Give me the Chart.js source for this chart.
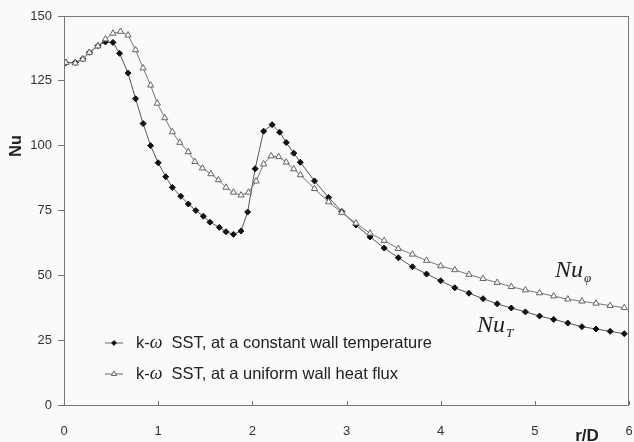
<!DOCTYPE html>
<html>
<head>
<meta charset="utf-8">
<script src="https://cdn.jsdelivr.net/npm/chart.js@4"></script>
<style>
  html, body { margin: 0; padding: 0; background: #fafafa; }
  #wrap { width: 634px; height: 442px; }
</style>
</head>
<body>
<div id="wrap"><canvas id="nuChart" width="634" height="442"></canvas></div>
<script>
// r/D positions and Nusselt numbers, constant wall temperature
const rT = [0.02, 0.12, 0.2, 0.27, 0.36, 0.44, 0.52, 0.59, 0.68, 0.76, 0.84, 0.92, 1.0, 1.08, 1.15, 1.24,
  1.32, 1.4, 1.48, 1.55, 1.65, 1.72, 1.8, 1.88, 1.95, 2.03, 2.12, 2.21, 2.29, 2.36, 2.44, 2.51, 2.66,
  2.81, 2.95, 3.1, 3.25, 3.4, 3.55, 3.7, 3.85, 4.0, 4.15, 4.3, 4.45, 4.6, 4.75, 4.9, 5.05, 5.2, 5.35,
  5.5, 5.65, 5.8, 5.95];
const nuT = [132.0, 132.1, 133.5, 136.0, 138.5, 140.0, 139.8, 135.6, 128.0, 118.1, 108.5, 100.0, 93.4,
  88.0, 83.9, 80.5, 77.5, 75.0, 72.8, 70.5, 68.5, 66.8, 65.8, 67.1, 74.4, 91.1, 105.6, 108.1, 105.2,
  101.2, 97.1, 93.6, 86.4, 80.0, 74.6, 69.4, 64.8, 60.5, 56.8, 53.3, 50.5, 47.9, 45.2, 43.1, 41.0, 39.0,
  37.4, 35.9, 34.3, 33.0, 31.6, 30.2, 29.3, 28.4, 27.5];

// r/D positions and Nusselt numbers, uniform wall heat flux
const rPhi = [0.02, 0.12, 0.2, 0.27, 0.36, 0.44, 0.52, 0.6, 0.68, 0.76, 0.84, 0.92, 0.99, 1.07, 1.15,
  1.23, 1.32, 1.39, 1.47, 1.56, 1.64, 1.72, 1.8, 1.88, 1.96, 2.04, 2.12, 2.2, 2.28, 2.36, 2.44, 2.51,
  2.66, 2.81, 2.95, 3.1, 3.25, 3.4, 3.55, 3.7, 3.85, 4.0, 4.15, 4.3, 4.45, 4.6, 4.75, 4.9, 5.05, 5.2,
  5.35, 5.5, 5.65, 5.8, 5.95];
const nuPhi = [132.0, 131.8, 133.3, 135.9, 138.4, 141.1, 143.3, 144.0, 142.6, 136.9, 129.9, 123.3,
  116.3, 110.7, 105.3, 101.2, 97.6, 93.8, 91.3, 89.1, 86.8, 83.9, 82.0, 80.9, 82.0, 86.3, 92.9, 96.0,
  95.7, 93.6, 91.0, 88.7, 83.4, 78.3, 74.2, 70.1, 66.2, 63.4, 60.3, 58.1, 55.7, 53.6, 52.1, 50.3, 48.7,
  47.2, 45.6, 44.3, 43.2, 42.0, 40.8, 40.0, 39.2, 38.3, 37.5];

const xTicks = [0, 1, 2, 3, 4, 5, 6];
const yTicks = [0, 25, 50, 75, 100, 125, 150];
const seriesNames = ['SST, at a constant wall temperature', 'SST, at a uniform wall heat flux'];

const SANS = '"Liberation Sans", Arial, sans-serif';
const SERIF = '"Liberation Serif", "Times New Roman", serif';

function toPoints(xs, ys) {
  return xs.map((x, i) => ({ x: x, y: ys[i] }));
}

const markerT = { pointStyle: 'rectRot', pointRadius: 3, pointBackgroundColor: '#111', pointBorderColor: '#111', pointBorderWidth: 1 };
const markerPhi = { pointStyle: 'triangle', pointRadius: 3.6, pointBackgroundColor: '#fafafa', pointBorderColor: '#666', pointBorderWidth: 1 };

// background, frame, inward x ticks, legend and curve labels
const decorations = {
  id: 'decorations',
  beforeDraw(chart) {
    const ctx = chart.ctx;
    ctx.save();
    ctx.fillStyle = '#fafafa';
    ctx.fillRect(0, 0, chart.width, chart.height);
    ctx.restore();
  },
  afterDraw(chart) {
    const ctx = chart.ctx;
    const a = chart.chartArea;
    const xs = chart.scales.x;
    ctx.save();
    ctx.strokeStyle = '#777';
    ctx.lineWidth = 1;
    ctx.strokeRect(a.left + 0.5, a.top + 0.5, a.right - a.left - 1, a.bottom - a.top);
    xTicks.forEach(v => {
      const px = Math.round(xs.getPixelForValue(v)) + 0.5;
      ctx.beginPath();
      ctx.moveTo(px, a.bottom);
      ctx.lineTo(px, a.bottom - 4);
      ctx.stroke();
    });

    // axis titles
    ctx.fillStyle = '#222';
    ctx.font = 'bold 16px ' + SANS;
    ctx.textAlign = 'center';
    ctx.textBaseline = 'middle';
    ctx.save();
    ctx.translate(17, 146);
    ctx.rotate(-Math.PI / 2);
    ctx.fillText('Nu', 0, 0);
    ctx.restore();
    ctx.font = 'bold 17px ' + SANS;
    ctx.fillText('r/D', 587, 436);

    // legend
    const rows = [
      { y: a.top + 327, marker: markerT },
      { y: a.top + 358, marker: markerPhi }
    ];
    rows.forEach((row, i) => {
      ctx.strokeStyle = '#666';
      ctx.beginPath();
      ctx.moveTo(a.left + 41, row.y);
      ctx.lineTo(a.left + 59, row.y);
      ctx.stroke();
      ctx.fillStyle = row.marker.pointBackgroundColor;
      ctx.strokeStyle = row.marker.pointBorderColor;
      Chart.helpers.drawPoint(ctx, {
        pointStyle: row.marker.pointStyle,
        radius: row.marker.pointRadius - 0.6,
        borderWidth: 1,
        rotation: 0
      }, a.left + 50, row.y);
      let tx = a.left + 72;
      ctx.textAlign = 'left';
      ctx.textBaseline = 'middle';
      ctx.fillStyle = '#222';
      ctx.font = '16.5px ' + SANS;
      ctx.fillText('k-', tx, row.y);
      tx += ctx.measureText('k-').width;
      ctx.font = 'italic 18px ' + SERIF;
      ctx.fillText('\u03c9', tx, row.y);
      tx += ctx.measureText('\u03c9').width + 9;
      ctx.font = '16.5px ' + SANS;
      ctx.fillText(seriesNames[i], tx, row.y);
    });

    // curve labels
    const label = (x, y, sub) => {
      ctx.textAlign = 'left';
      ctx.textBaseline = 'alphabetic';
      ctx.fillStyle = '#222';
      ctx.font = 'italic 24px ' + SERIF;
      ctx.fillText('Nu', x, y);
      const w = ctx.measureText('Nu').width;
      ctx.font = 'italic 13px ' + SERIF;
      ctx.fillText(sub, x + w + 1, y + 5);
    };
    label(555, 277, '\u03c6');
    label(477, 332, 'T');
    ctx.restore();
  }
};

const ctx = document.getElementById('nuChart').getContext('2d');
new Chart(ctx, {
  type: 'scatter',
  data: {
    datasets: [
      Object.assign({
        label: 'uniform wall heat flux',
        data: toPoints(rPhi, nuPhi),
        showLine: true,
        borderColor: '#777',
        borderWidth: 1,
        tension: 0
      }, markerPhi),
      Object.assign({
        label: 'constant wall temperature',
        data: toPoints(rT, nuT),
        showLine: true,
        borderColor: '#555',
        borderWidth: 1,
        tension: 0
      }, markerT)
    ]
  },
  options: {
    responsive: false,
    animation: false,
    layout: { padding: { top: 16, right: 2, left: 0, bottom: 0 } },
    plugins: {
      legend: { display: false },
      tooltip: { enabled: false }
    },
    scales: {
      x: {
        type: 'linear',
        min: 0,
        max: 6,
        afterBuildTicks: s => { s.ticks = xTicks.map(v => ({ value: v })); },
        afterFit: s => { s.height = 37; s.paddingLeft = 0; s.paddingRight = 0; },
        border: { display: false },
        grid: { display: false },
        ticks: { padding: 11, color: '#333', font: { family: SANS, size: 13 }, maxRotation: 0 }
      },
      y: {
        min: 0,
        max: 150,
        afterBuildTicks: s => { s.ticks = yTicks.map(v => ({ value: v })); },
        afterFit: s => { s.width = 64; },
        border: { display: false },
        grid: { drawOnChartArea: false, tickLength: 6, color: '#777' },
        ticks: { padding: 6, color: '#333', font: { family: SANS, size: 13 } }
      }
    }
  },
  plugins: [decorations]
});
</script>
</body>
</html>
